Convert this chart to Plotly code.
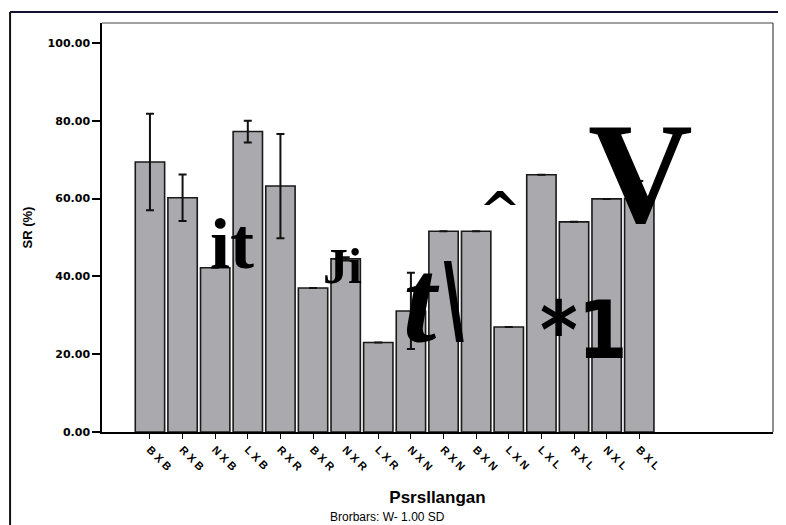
import plotly.graph_objects as go

# datos
categorias = ["BXB", "RXB", "NXB", "LXB", "RXR", "BXR", "NXR", "LXR",
              "NXN", "RXN", "BXN", "LXN", "LXL", "RXL", "NXL", "BXL"]
sr_media = [69.4, 60.2, 42.2, 77.2, 63.2, 37.0, 44.5, 23.0,
            31.1, 51.6, 51.6, 27.0, 66.1, 54.0, 59.9, 60.0]
sr_sd = [12.4, 6.0, 0, 2.8, 13.4, 0, 0.4, 0,
         9.8, 0, 0, 0, 0, 0, 0, 4.5]
y_ticks = [0, 20, 40, 60, 80, 100]
y_ticktext = ["0.00", "20.00", "40.00", "60.00", "80.00", "100.00"]

# texto basura del escaneo (OCR) que aparece sobre las barras
ruido = [
    ("it", 2.5, 48.3, 72, "Liberation Serif", False),
    ("Ji", 5.89, 42.7, 50, "Liberation Serif", False),
    ("t\\", 8.77, 33.8, 120, "Liberation Serif", True),
    ("^", 10.74, 57.0, 50, "DejaVu Serif", False),
    ("*1", 13.3, 26.0, 80, "DejaVu Sans Condensed, Liberation Sans", False),
    ("V", 15.03, 66.5, 145, "Liberation Serif", False),
]

fig = go.Figure()

fig.add_trace(go.Bar(
    x=list(range(len(categorias))),
    y=sr_media,
    width=0.9,
    marker=dict(color="#a9a9ae", line=dict(color="#1a1a1a", width=1.6)),
    error_y=dict(type="data", array=sr_sd, visible=True,
                 color="#111111", thickness=2, width=4),
    showlegend=False,
))

for texto, xc, yc, size, familia, italica in ruido:
    etiqueta = f"<i>{texto}</i>" if italica else texto
    fig.add_annotation(
        x=xc, y=yc, xref="x", yref="y", text=f"<b>{etiqueta}</b>",
        showarrow=False, font=dict(family=familia, size=size, color="black"),
        xanchor="center", yanchor="middle",
    )

fig.update_xaxes(
    tickmode="array",
    tickvals=list(range(len(categorias))),
    ticktext=[" ".join(c) for c in categorias],
    tickangle=45,
    range=[-1.47, 19.1],
    ticks="outside", ticklen=5, tickcolor="black",
    tickfont=dict(family="Liberation Sans", size=11, color="black", weight="bold"),
    showline=True, linecolor="black", linewidth=2,
    showgrid=False, zeroline=False, automargin=False,
    title=dict(text="<b>Psrsllangan</b>", standoff=19,
               font=dict(family="Liberation Sans", size=17, color="black")),
)

fig.update_yaxes(
    range=[0, 105.1],
    tickmode="array", tickvals=y_ticks, ticktext=y_ticktext,
    ticks="outside", ticklen=8, tickwidth=2, tickcolor="black",
    tickfont=dict(family="DejaVu Sans", size=11, color="black", weight="bold"),
    showline=True, linecolor="black", linewidth=1.5,
    showgrid=False, zeroline=False, automargin=False,
    title=dict(text="<b>SR (%)</b>", standoff=12,
               font=dict(family="Liberation Sans", size=13, color="black")),
)

# marco exterior del escaneo y borde del area de trazado
fig.add_shape(type="line", xref="paper", yref="paper",
              x0=-0.137, x1=1.03, y0=1.027, y1=1.027,
              line=dict(color="#111133", width=2))
fig.add_shape(type="line", xref="paper", yref="paper",
              x0=-0.137, x1=-0.137, y0=1.027, y1=-0.23,
              line=dict(color="#111111", width=2))
fig.add_shape(type="line", xref="paper", yref="paper",
              x0=0, x1=1, y0=1, y1=1, line=dict(color="#444444", width=1.2))
fig.add_shape(type="line", xref="paper", yref="paper",
              x0=1, x1=1, y0=0, y1=1, line=dict(color="#444444", width=1.2))

fig.add_annotation(
    text="Brorbars: W- 1.00 SD", xref="paper", yref="paper",
    x=0.425, y=-0.207, showarrow=False, xanchor="center", yanchor="middle",
    font=dict(family="Liberation Sans", size=12, color="black"),
)

# la pagina agrega 8px de margen, se compensa con el tamano
fig.update_layout(
    width=778, height=517,
    margin={"l": 94, "r": 13, "t": 15, "b": 93},
    plot_bgcolor="white", paper_bgcolor="white",
    bargap=0.1,
)

fig.write_html("out.html")
